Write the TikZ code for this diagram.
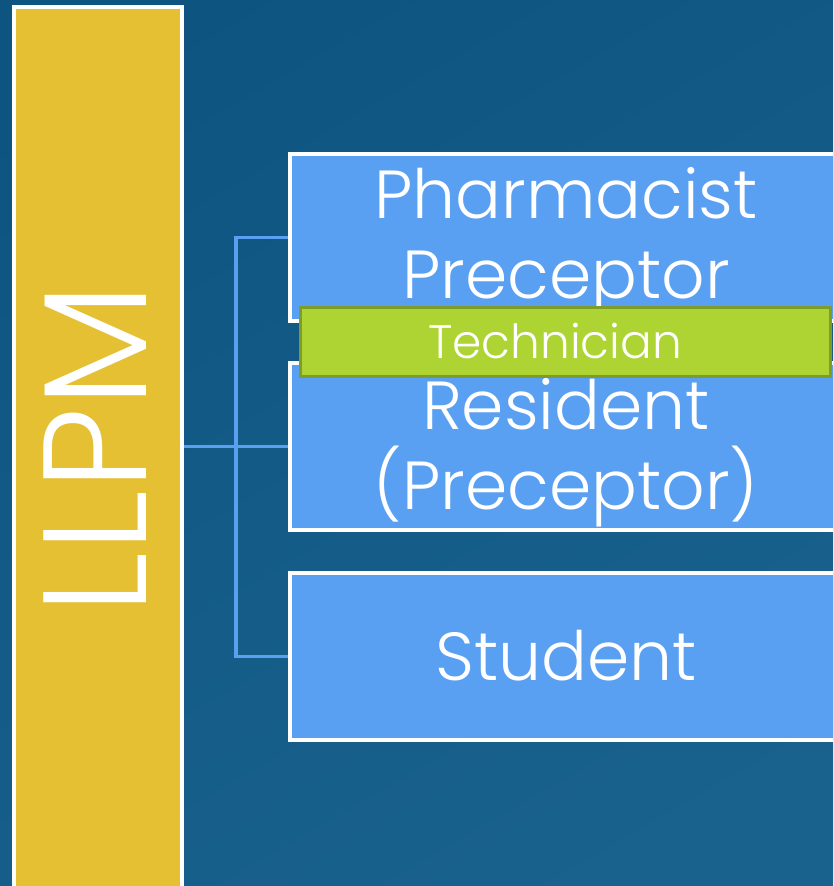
\documentclass[tikz,border=0pt]{standalone}
\usepackage{fontspec}
\setmainfont{Poppins}[UprightFont=* Light]
\definecolor{bgtop}{HTML}{0E5480}
\definecolor{bgbot}{HTML}{1A628E}
\definecolor{barfill}{HTML}{E5C033}
\definecolor{boxfill}{HTML}{5AA0F2}
\definecolor{linkcol}{HTML}{5AA0F0}
\definecolor{techfill}{HTML}{ADD433}
\definecolor{techdraw}{HTML}{7E9C28}
\tikzset{
  rolebox/.style={draw=white, line width=4pt, fill=boxfill, minimum width=552pt,
    minimum height=167pt, inner sep=0pt},
  roletext/.style={text=white, inner sep=0pt, font=\fontsize{68}{80}\selectfont,
    align=center},
  link/.style={draw=linkcol, line width=3.5pt},
}
\begin{document}
\begin{tikzpicture}[x=1pt,y=1pt]
  \useasboundingbox (0,0) rectangle (833,886);
  \clip (0,0) rectangle (833,886);
  % background
  \shade[top color=bgtop, bottom color=bgbot, shading angle=30] (-50,-50) rectangle (900,950);
  % vertical LLPM bar
  \node (llpm) [draw=white, line width=4pt, fill=barfill, minimum width=168pt,
    minimum height=900pt, inner sep=0pt] at (97.5,429) {};
  \node (llpmtext) [rotate=90, text=white, font=\fontsize{147}{147}\selectfont] at (95,437) {LLPM};
  % role boxes
  \node (box1) [rolebox] at (566,648.5) {};
  \node (box2) [rolebox] at (566,439.5) {};
  \node (box3) [rolebox] at (566,229.5) {};
  \node (t1) [roletext] at ([yshift=-4pt]box1.center) {Pharmacist\\Preceptor};
  \node (t2) [roletext] at ([yshift=-6pt]box2.center) {Resident\\(Preceptor)};
  \node (t3) [roletext] at ([yshift=1pt]box3.center) {Student};
  % connectors
  \coordinate (jx) at (236,0);
  \draw[link] (llpm.east |- box2.west) -- (box2.west);
  \draw[link] (box1.west) -- (jx |- box1.west) -- (jx |- box3.west) -- (box3.west);
  % technician banner
  \node (tech) [draw=techdraw, line width=3pt, fill=techfill, minimum width=530pt,
    minimum height=69pt, inner sep=0pt] at (565,543.5) {};
  \node (techtext) [text=white, font=\fontsize{47}{47}\selectfont, inner sep=0pt]
    at ([xshift=-10pt,yshift=1pt]tech.center) {Technician};
\end{tikzpicture}
\end{document}
